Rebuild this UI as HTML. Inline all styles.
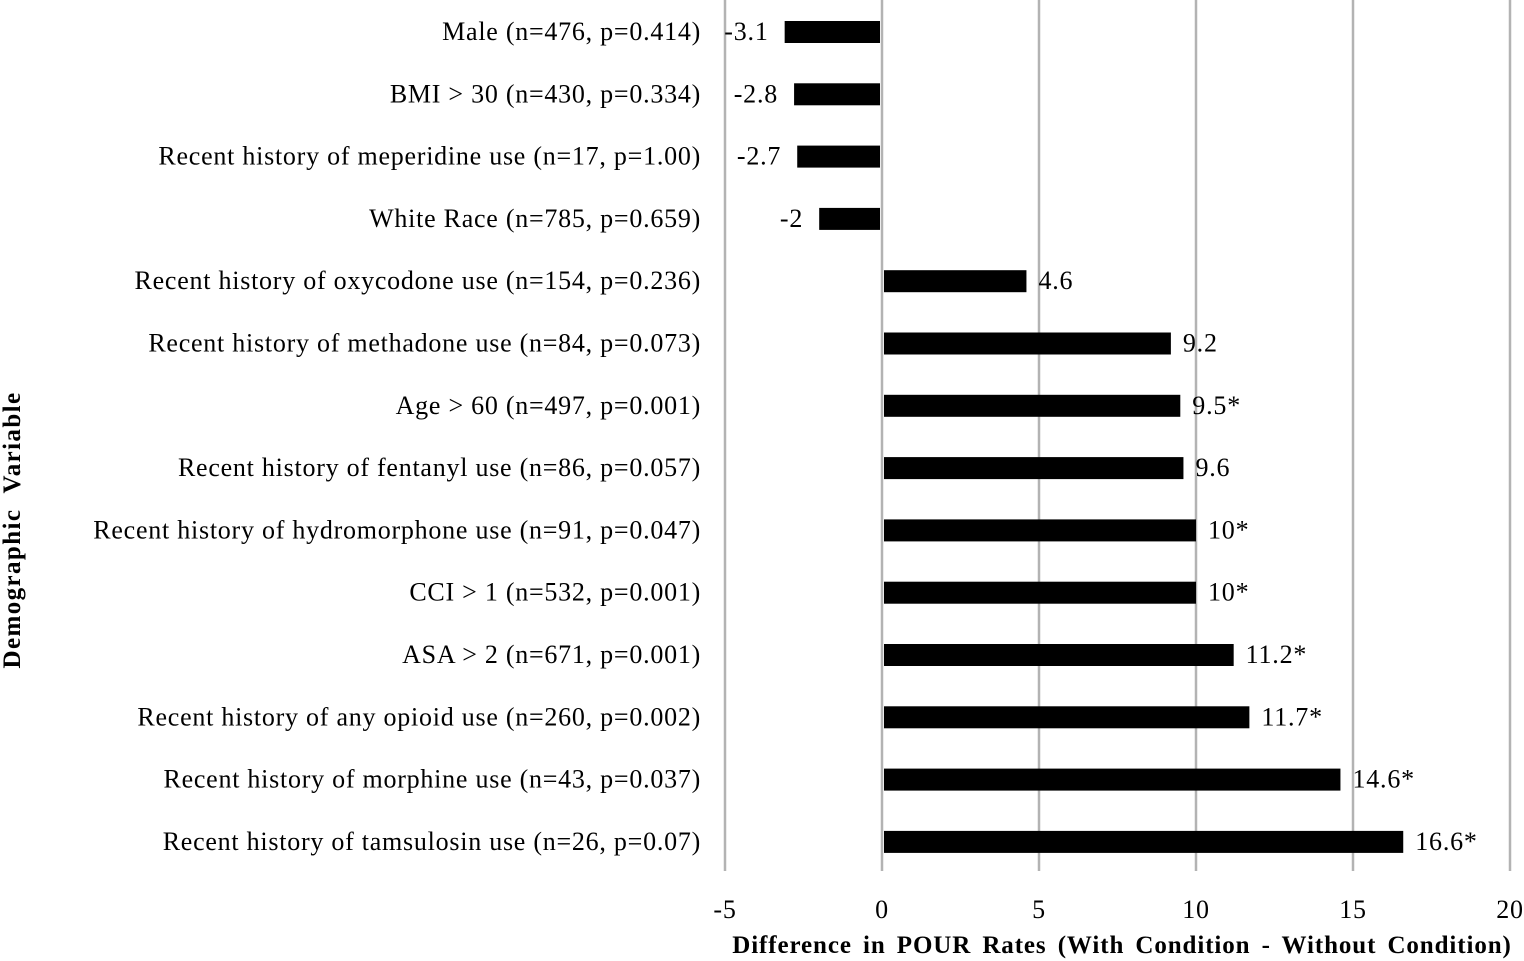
<!DOCTYPE html>
<html><head><meta charset="utf-8"><style>
body{margin:0;background:#fff}
svg{display:block;font-family:"Liberation Serif",serif}
</style></head><body>
<svg id="c" width="1524" height="961"></svg>
<script>
const categories=["Male (n=476, p=0.414)","BMI > 30 (n=430, p=0.334)","Recent history of meperidine use (n=17, p=1.00)","White Race (n=785, p=0.659)","Recent history of oxycodone use (n=154, p=0.236)","Recent history of methadone use (n=84, p=0.073)","Age > 60 (n=497, p=0.001)","Recent history of fentanyl use (n=86, p=0.057)","Recent history of hydromorphone use (n=91, p=0.047)","CCI > 1 (n=532, p=0.001)","ASA > 2 (n=671, p=0.001)","Recent history of any opioid use (n=260, p=0.002)","Recent history of morphine use (n=43, p=0.037)","Recent history of tamsulosin use (n=26, p=0.07)"];
const values=[-3.1,-2.8,-2.7,-2,4.6,9.2,9.5,9.6,10,10,11.2,11.7,14.6,16.6];
const valueLabels=["-3.1","-2.8","-2.7","-2","4.6","9.2","9.5*","9.6","10*","10*","11.2*","11.7*","14.6*","16.6*"];
const ticks=[-5,0,5,10,15,20];
const NS="http://www.w3.org/2000/svg";
const svg=document.getElementById('c');
const x=v=>882+v*31.4;
const y=i=>32+i*62.3;
function mk(t,a,txt){const e=document.createElementNS(NS,t);for(const k in a)e.setAttribute(k,a[k]);if(txt!==undefined)e.textContent=txt;svg.appendChild(e);return e;}
ticks.forEach(t=>{
 const g=mk('line',{x1:x(t),x2:x(t),y1:0,y2:871,stroke:'#b3b3b3','stroke-width':2.5});
 
 
 const l=mk('text',{x:x(t),y:918,'text-anchor':'middle','font-size':26,'letter-spacing':0.8},String(t));
 
 
});
categories.forEach((c,i)=>{
 const v=values[i];
 const b=mk('rect',{x:Math.min(x(0),x(v))+(v>0?2:0),y:y(i)-11,width:Math.abs(x(v)-x(0))-2,height:22,fill:'#000'});
 
 
 const l=mk('text',{x:701,y:y(i)+8,'text-anchor':'end','font-size':26,'letter-spacing':0.75},c);
 
 
 const vl=mk('text',{x:v<0?x(v)-16:x(v)+12,y:y(i)+8,'text-anchor':v<0?'end':'start','font-size':26,'letter-spacing':0.8},valueLabels[i]);
 
 
});
const xt=mk('text',{x:1122,y:953,'text-anchor':'middle','font-size':25,'font-weight':'bold','letter-spacing':0.9,'word-spacing':4},"Difference in POUR Rates (With Condition - Without Condition)");


const yt=mk('text',{x:0,y:0,'text-anchor':'middle','font-size':25,'font-weight':'bold','letter-spacing':1.4,'word-spacing':8,transform:'translate(20,530) rotate(-90)'},"Demographic Variable");


</script>
</body></html>
